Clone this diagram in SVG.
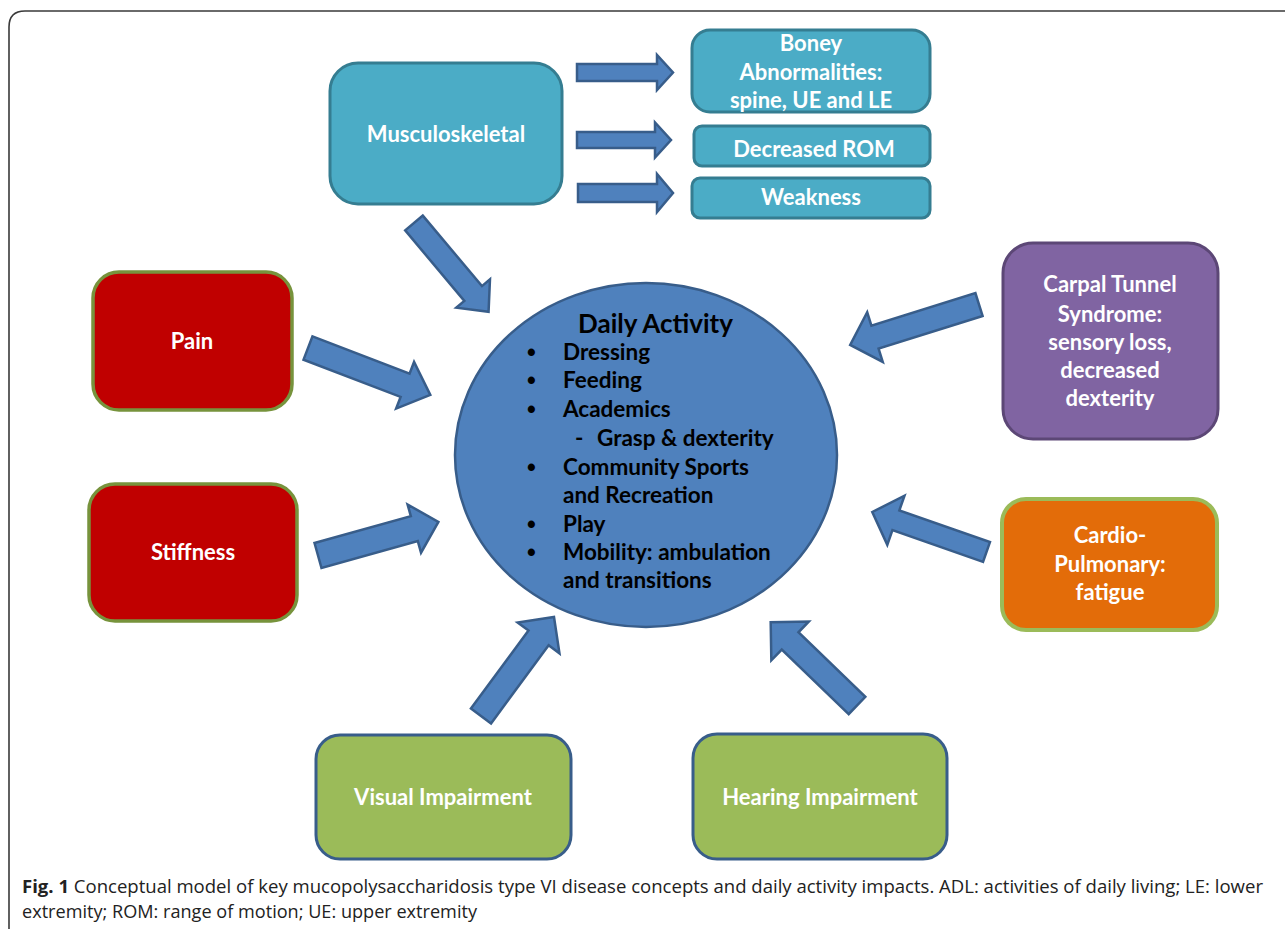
<svg xmlns="http://www.w3.org/2000/svg" width="1285" height="929" viewBox="0 0 1285 929">
  <style>
    .frame { fill: none; stroke: #3a3a3a; stroke-width: 1.6; }
    .arrow { fill: #4F81BD; stroke: #385D8A; stroke-width: 2.5; stroke-linejoin: miter; }
    .teal { fill: #4BACC6; stroke: #357D91; stroke-width: 3; }
    .red { fill: #C00000; stroke: #77933C; stroke-width: 3.5; }
    .purple { fill: #8064A2; stroke: #5C4776; stroke-width: 3; }
    .orange { fill: #E36C09; stroke: #9BBB59; stroke-width: 4; }
    .green { fill: #9BBB59; stroke: #385D8A; stroke-width: 3; }
    .hub { fill: #4F81BD; stroke: #385D8A; stroke-width: 2.5; }
    .lbl { font-family: Lato, "Open Sans", sans-serif; font-weight: bold; font-size: 22px; fill: #ffffff; text-anchor: middle; }
    .act { font-family: Lato, "Open Sans", sans-serif; font-weight: bold; font-size: 22.5px; fill: #000000; }
    .title { font-size: 26px; }
    .dot { font-family: "Liberation Sans", sans-serif; font-weight: bold; font-size: 25px; }
    .cap { font-family: "Open Sans", "Liberation Sans", sans-serif; font-size: 18px; fill: #222222; }
  </style>

  <!-- figure panel outline -->
  <path class="frame" d="M 9 929 V 27 Q 9 11 25 11 H 1285"/>

  <!-- connectors: block arrows, drawn along +x from the tail then rotated -->
  <g id="connectors">
    <polygon class="arrow" transform="translate(577,72.5)" points="0,-8.5 80,-8.5 80,-17.5 96,0 80,17.5 80,8.5 0,8.5"/>
    <polygon class="arrow" transform="translate(577,140)" points="0,-8 78,-8 78,-17.5 94,0 78,17.5 78,8 0,8"/>
    <polygon class="arrow" transform="translate(578,193)" points="0,-9 79,-9 79,-19 95,0 79,19 79,9 0,9"/>
    <polygon class="arrow" transform="translate(414,223) rotate(50)" points="0,-11.5 92,-11.5 92,-22 116,0 92,22 92,11.5 0,11.5"/>
    <polygon class="arrow" transform="translate(308,348) rotate(21)" points="0,-12.5 104,-12.5 104,-25 131,0 104,25 104,12.5 0,12.5"/>
    <polygon class="arrow" transform="translate(318,555.5) rotate(-15.6)" points="0,-13 100,-13 100,-25 125,0 100,25 100,13 0,13"/>
    <polygon class="arrow" transform="translate(979,304.5) rotate(162.6)" points="0,-12 109,-12 109,-26 135,0 109,26 109,12 0,12"/>
    <polygon class="arrow" transform="translate(986.5,552) rotate(-160.7)" points="0,-10.5 96,-10.5 96,-26 121,0 96,26 96,10.5 0,10.5"/>
    <polygon class="arrow" transform="translate(481,716) rotate(-53.6)" points="0,-12.5 97,-12.5 97,-26 123,0 97,26 97,12.5 0,12.5"/>
    <polygon class="arrow" transform="translate(857,705.5) rotate(-136)" points="0,-12 93,-12 93,-27 120,0 93,27 93,12 0,12"/>
  </g>

  <!-- central activity ellipse -->
  <g id="daily-activity">
    <ellipse class="hub" cx="646" cy="455" rx="191" ry="172"/>
    <text class="act title" x="578" y="333">Daily Activity</text>
    <g class="act">
      <text class="dot" x="527" y="361">•</text><text x="563" y="360">Dressing</text>
      <text class="dot" x="527" y="389">•</text><text x="563" y="388">Feeding</text>
      <text class="dot" x="527" y="418">•</text><text x="563" y="417">Academics</text>
      <text x="575" y="446">-</text><text x="597" y="446">Grasp &amp; dexterity</text>
      <text class="dot" x="527" y="476">•</text><text x="563" y="475">Community Sports</text>
      <text x="563" y="503">and Recreation</text>
      <text class="dot" x="527" y="533">•</text><text x="563" y="532">Play</text>
      <text class="dot" x="527" y="561">•</text><text x="563" y="560">Mobility: ambulation</text>
      <text x="563" y="588">and transitions</text>
    </g>
  </g>

  <g id="musculoskeletal">
    <rect class="teal" x="330" y="63" width="232" height="141" rx="28"/>
    <text class="lbl" x="446" y="142">Musculoskeletal</text>
  </g>

  <g id="boney-abnormalities">
    <rect class="teal" x="692" y="30" width="238" height="82" rx="18"/>
    <text class="lbl" x="811" y="51">Boney</text>
    <text class="lbl" x="811" y="80">Abnormalities:</text>
    <text class="lbl" x="811" y="108">spine, UE and LE</text>
  </g>

  <g id="decreased-rom">
    <rect class="teal" x="694" y="126" width="236" height="40" rx="8"/>
    <text class="lbl" x="814" y="157">Decreased ROM</text>
  </g>

  <g id="weakness">
    <rect class="teal" x="692" y="178" width="238" height="40" rx="8"/>
    <text class="lbl" x="811" y="205">Weakness</text>
  </g>

  <g id="pain">
    <rect class="red" x="93" y="272" width="199" height="138" rx="26"/>
    <text class="lbl" x="192" y="349">Pain</text>
  </g>

  <g id="stiffness">
    <rect class="red" x="89" y="484" width="208" height="137" rx="26"/>
    <text class="lbl" x="193" y="560">Stiffness</text>
  </g>

  <g id="carpal-tunnel">
    <rect class="purple" x="1003" y="243" width="215" height="196" rx="30"/>
    <text class="lbl" x="1110" y="292">Carpal Tunnel</text>
    <text class="lbl" x="1110" y="322">Syndrome:</text>
    <text class="lbl" x="1110" y="350">sensory loss,</text>
    <text class="lbl" x="1110" y="378">decreased</text>
    <text class="lbl" x="1110" y="406">dexterity</text>
  </g>

  <g id="cardio-pulmonary">
    <rect class="orange" x="1002" y="499" width="215" height="131" rx="24"/>
    <text class="lbl" x="1110" y="543">Cardio-</text>
    <text class="lbl" x="1110" y="572">Pulmonary:</text>
    <text class="lbl" x="1110" y="600">fatigue</text>
  </g>

  <g id="visual-impairment">
    <rect class="green" x="316" y="735" width="255" height="124" rx="24"/>
    <text class="lbl" x="443" y="805">Visual Impairment</text>
  </g>

  <g id="hearing-impairment">
    <rect class="green" x="693" y="734" width="254" height="125" rx="24"/>
    <text class="lbl" x="820" y="805">Hearing Impairment</text>
  </g>

  <!-- caption -->
  <text class="cap" x="22" y="893" textLength="1241" lengthAdjust="spacingAndGlyphs"><tspan font-weight="bold">Fig. 1</tspan>  Conceptual model of key mucopolysaccharidosis type VI disease concepts and daily activity impacts. ADL: activities of daily living; LE: lower</text>
  <text class="cap" x="22" y="918" textLength="455" lengthAdjust="spacingAndGlyphs">extremity; ROM: range of motion; UE: upper extremity</text>
</svg>
